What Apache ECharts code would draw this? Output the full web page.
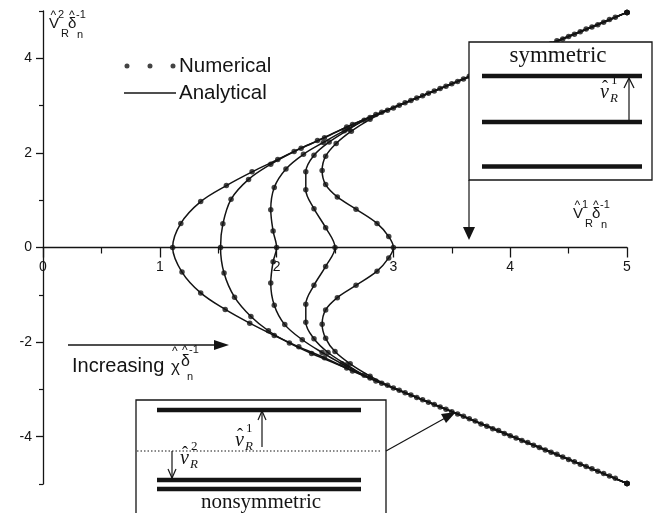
<!DOCTYPE html>
<html>
<head>
<meta charset="utf-8">
<script src="https://cdn.jsdelivr.net/npm/echarts@6/dist/echarts.min.js"></script>
<style>
  html, body { margin: 0; padding: 0; background: #fff; }
  #chart { width: 658px; height: 513px; }
</style>
</head>
<body>
<div id="chart"></div>
<script>
// Response curves in the (v_R^1/delta_n, v_R^2/delta_n) plane, one per chi/delta_n.
// Each list runs from the lower branch, through the crossing with the horizontal axis, to the upper branch.
const loop110 = [
  [5.00,-4.99],[4.90,-4.88],[4.65,-4.63],[4.40,-4.37],[4.15,-4.12],[3.90,-3.87],[3.65,-3.62],[3.40,-3.37],
  [3.15,-3.12],[2.90,-2.87],[2.65,-2.61],[2.41,-2.33],[2.19,-2.10],[1.98,-1.86],[1.77,-1.60],[1.56,-1.31],
  [1.35,-0.96],[1.19,-0.52],[1.11,0.00],[1.18,0.51],[1.35,0.97],[1.57,1.31],[1.79,1.60],[2.01,1.86],
  [2.21,2.10],[2.41,2.32],[2.65,2.60],[2.90,2.86],[3.15,3.11],[3.40,3.36],[3.65,3.62],[3.90,3.87],
  [4.15,4.12],[4.40,4.37],[4.65,4.62],[4.90,4.87],[5.00,4.97]
];
const loop150 = [
  [5.00,-4.99],[4.85,-4.83],[4.60,-4.58],[4.35,-4.33],[4.10,-4.08],[3.85,-3.83],[3.60,-3.57],[3.35,-3.32],
  [3.10,-3.07],[2.85,-2.82],[2.60,-2.55],[2.30,-2.24],[2.11,-2.02],[1.93,-1.76],[1.78,-1.46],[1.64,-1.05],
  [1.55,-0.54],[1.52,0.00],[1.54,0.50],[1.61,1.02],[1.76,1.44],[1.95,1.76],[2.15,2.03],[2.35,2.26],
  [2.60,2.55],[2.85,2.81],[3.10,3.06],[3.35,3.31],[3.60,3.56],[3.85,3.81],[4.10,4.06],[4.35,4.31],
  [4.60,4.56],[4.85,4.82],[5.00,4.97]
];
const loop200 = [
  [5.00,-4.99],[4.80,-4.78],[4.55,-4.53],[4.30,-4.28],[4.05,-4.03],[3.80,-3.78],[3.55,-3.52],[3.30,-3.27],
  [3.05,-3.02],[2.80,-2.76],[2.56,-2.46],[2.39,-2.22],[2.22,-1.95],[2.07,-1.63],[1.98,-1.22],[1.95,-0.75],
  [1.97,-0.30],[2.00,0.00],[1.97,0.35],[1.95,0.80],[1.98,1.27],[2.08,1.66],[2.23,1.97],[2.40,2.22],
  [2.58,2.47],[2.80,2.75],[3.05,3.01],[3.30,3.26],[3.55,3.51],[3.80,3.76],[4.05,4.01],[4.30,4.26],
  [4.55,4.51],[4.80,4.76],[5.00,4.97]
];
const loop250 = [
  [5.00,-4.99],[4.75,-4.73],[4.50,-4.48],[4.25,-4.23],[4.00,-3.98],[3.75,-3.73],[3.50,-3.47],[3.25,-3.22],
  [3.00,-2.97],[2.75,-2.70],[2.60,-2.48],[2.44,-2.22],[2.32,-1.93],[2.25,-1.58],[2.25,-1.20],[2.32,-0.80],
  [2.42,-0.40],[2.50,0.00],[2.42,0.42],[2.32,0.82],[2.25,1.22],[2.25,1.60],[2.32,1.95],[2.45,2.23],
  [2.62,2.50],[2.75,2.69],[3.00,2.95],[3.25,3.21],[3.50,3.46],[3.75,3.71],[4.00,3.96],[4.25,4.21],
  [4.50,4.46],[4.75,4.71],[5.00,4.97]
];
const loop300 = [
  [5.00,-4.99],[4.70,-4.68],[4.45,-4.43],[4.20,-4.18],[3.95,-3.93],[3.70,-3.67],[3.45,-3.42],[3.20,-3.17],
  [2.95,-2.91],[2.80,-2.72],[2.63,-2.46],[2.50,-2.20],[2.42,-1.92],[2.39,-1.62],[2.42,-1.32],[2.52,-1.06],
  [2.68,-0.80],[2.86,-0.50],[2.96,-0.22],[3.00,0.00],[2.96,0.23],[2.86,0.51],[2.68,0.81],[2.52,1.07],
  [2.42,1.33],[2.39,1.63],[2.42,1.93],[2.51,2.20],[2.64,2.46],[2.80,2.71],[2.95,2.90],[3.20,3.16],
  [3.45,3.41],[3.70,3.66],[3.95,3.91],[4.20,4.16],[4.45,4.41],[4.70,4.66],[5.00,4.97]
];
const curves = [loop110, loop150, loop200, loop250, loop300];

// Axis ticks
const xTicks = [0, 1, 2, 3, 4, 5];
const yMajorTicks = [-4, -2, 0, 2, 4];
const yMinorTicks = [-5, -3, -1, 1, 3, 5];

const INK = '#141414';
const SANS = 'Liberation Sans, Arial, sans-serif';
const SERIF = 'Liberation Serif, Times New Roman, serif';

// Plot box in pixels; the horizontal axis sits on v_R^2 = 0
const GRID = { left: 43, right: 31, top: 11, bottom: 29 };
const PLOT_H = 513 - GRID.top - GRID.bottom;
const Y_MIN = -5, Y_MAX = 5;
const ZERO_OFFSET = -(PLOT_H * (0 - Y_MIN) / (Y_MAX - Y_MIN));

const series = [];
curves.forEach(function (pts) {
  series.push({
    name: 'Analytical', type: 'line', data: pts, smooth: 0.35, symbol: 'none',
    lineStyle: { color: INK, width: 1.5 }, itemStyle: { color: INK }, z: 3, silent: true
  });
  series.push({
    name: 'Numerical', type: 'scatter', data: pts, symbol: 'circle', symbolSize: 5.5,
    itemStyle: { color: INK }, z: 4, silent: true
  });
});

// Small maths labels built from separate glyphs (base, hat, super/subscripts)
function glyph(t, x, y, size, font, italic) {
  return {
    type: 'text', z: 120, x: x, y: y,
    style: { text: t, fill: INK, font: (italic ? 'italic ' : '') + size + 'px ' + font, textVerticalAlign: 'top' }
  };
}
function axisSymbol(x, y, sup) {
  // V-hat with R subscript and a superscript, then delta-hat with n subscript and -1 superscript
  return [
    glyph('V', x, y + 5, 15, SANS),
    glyph('^', x + 1.5, y - 1, 12, SANS),
    glyph(sup, x + 9, y - 2, 11, SANS),
    glyph('R', x + 12, y + 17, 11, SANS),
    glyph('δ', x + 19, y + 5, 15, SANS),
    glyph('^', x + 20, y - 1, 12, SANS),
    glyph('-1', x + 27, y - 2, 11, SANS),
    glyph('n', x + 28, y + 18, 11, SANS)
  ];
}
function vHat(x, y, sup) {
  return [
    glyph('v', x, y, 20, SERIF, true),
    glyph('ˆ', x + 2, y - 4, 18, SERIF),
    glyph(sup, x + 11, y - 9, 13, SERIF),
    glyph('R', x + 10, y + 9, 13, SERIF, true)
  ];
}
function thick(x1, x2, y) {
  return { type: 'line', z: 115, shape: { x1: x1, y1: y, x2: x2, y2: y }, style: { stroke: INK, lineWidth: 4.5 } };
}
function thin(x1, y1, x2, y2, extra) {
  return { type: 'line', z: 115, shape: { x1: x1, y1: y1, x2: x2, y2: y2 }, style: Object.assign({ stroke: INK, lineWidth: 1.2 }, extra || {}) };
}
function head(points) {
  return { type: 'polygon', z: 116, shape: { points: points }, style: { fill: INK } };
}

const graphics = [].concat(
  axisSymbol(49, 11, '2'),
  axisSymbol(573, 201, '1'),
  [
    // "Increasing chi/delta" arrow
    thin(68, 345, 218, 345, { lineWidth: 1.6 }),
    head([[214, 340], [229, 345], [214, 350]]),
    glyph('Increasing', 72, 356, 20, SANS),
    glyph('χ', 171, 359, 17, SANS),
    glyph('^', 172, 346, 12, SANS),
    glyph('δ', 181, 354, 16, SANS),
    glyph('^', 182, 345, 12, SANS),
    glyph('-1', 189, 344, 11, SANS),
    glyph('n', 187, 371, 11, SANS),

    // symmetric inset
    { type: 'rect', z: 110, shape: { x: 469, y: 42, width: 183, height: 138 }, style: { fill: '#fff', stroke: INK, lineWidth: 1.3 } },
    { type: 'text', z: 120, x: 558, y: 56, style: { text: 'symmetric', fill: INK, font: '23px ' + SERIF, align: 'center', verticalAlign: 'middle' } },
    thick(482, 642, 76), thick(482, 642, 122), thick(482, 642, 166.5),
    thin(629, 122, 629, 79), thin(624, 88, 629, 78), thin(634, 88, 629, 78)
  ],
  vHat(600, 83, '1'),
  [
    thin(469, 180, 469, 230),
    head([[463, 227], [475, 227], [469, 240]]),

    // nonsymmetric inset
    { type: 'rect', z: 110, shape: { x: 136, y: 400, width: 250, height: 130 }, style: { fill: '#fff', stroke: INK, lineWidth: 1.3 } },
    thick(157, 361, 410), thick(157, 361, 480), thick(157, 361, 489),
    thin(137, 451, 381, 451, { lineWidth: 1, lineDash: [1.5, 2] }),
    thin(262, 447, 262, 412), thin(258, 420, 262, 411), thin(266, 420, 262, 411),
    thin(172, 451, 172, 478), thin(168, 469, 172, 478), thin(176, 469, 172, 478),
    { type: 'text', z: 120, x: 261, y: 502, style: { text: 'nonsymmetric', fill: INK, font: '21px ' + SERIF, align: 'center', verticalAlign: 'middle' } },
    thin(386, 451, 447, 417),
    head([[441, 414], [446, 423], [456, 412]])
  ],
  vHat(235, 431, '1'),
  vHat(180, 449, '2')
);

const chart = echarts.init(document.getElementById('chart'), null, { renderer: 'canvas' });
chart.setOption({
  backgroundColor: '#fff',
  animation: false,
  textStyle: { fontFamily: SANS },
  grid: { left: GRID.left, right: GRID.right, top: GRID.top, bottom: GRID.bottom, containLabel: false },
  legend: {
    orient: 'vertical', left: 119, top: 50, itemGap: 5, itemWidth: 52, itemHeight: 8,
    selectedMode: false,
    textStyle: { fontSize: 20.5, lineHeight: 22, color: INK, fontFamily: SANS, padding: [0, 0, 0, -2] },
    data: [
      { name: 'Numerical', icon: 'path://M0,0M52,8M0.5,4a2.5,2.5 0 1,0 5,0a2.5,2.5 0 1,0 -5,0M23.5,4a2.5,2.5 0 1,0 5,0a2.5,2.5 0 1,0 -5,0M46.5,4a2.5,2.5 0 1,0 5,0a2.5,2.5 0 1,0 -5,0', itemStyle: { color: INK } },
      { name: 'Analytical', icon: 'path://M0,0M52,8M0,3.3L52,3.3L52,4.7L0,4.7Z', itemStyle: { color: INK } }
    ]
  },
  xAxis: {
    type: 'value', min: 0, max: 5, interval: 1, position: 'bottom', offset: ZERO_OFFSET,
    axisLine: { onZero: false, lineStyle: { color: INK, width: 1.3 } },
    axisTick: { show: true, inside: false, length: 10, lineStyle: { color: INK, width: 1.3 }, customValues: xTicks },
    minorTick: { show: true, splitNumber: 2, length: 6, lineStyle: { color: INK, width: 1.2 } },
    axisLabel: { margin: 13, fontSize: 14, color: INK, fontFamily: SANS, customValues: xTicks, formatter: function (v) { return String(v); } },
    splitLine: { show: false }, minorSplitLine: { show: false }
  },
  yAxis: [
    {
      type: 'value', min: Y_MIN, max: Y_MAX, interval: 1,
      axisLine: { show: true, onZero: false, lineStyle: { color: INK, width: 1.3 } },
      axisTick: { show: true, inside: false, length: 7, lineStyle: { color: INK, width: 1.3 }, customValues: yMajorTicks },
      axisLabel: { margin: 11, fontSize: 14, color: INK, fontFamily: SANS, customValues: yMajorTicks, formatter: function (v) { return String(v); } },
      splitLine: { show: false }
    },
    {
      type: 'value', min: Y_MIN, max: Y_MAX, interval: 1, position: 'left',
      axisLine: { show: false, onZero: false },
      axisTick: { show: true, inside: false, length: 4, lineStyle: { color: INK, width: 1.2 }, customValues: yMinorTicks },
      axisLabel: { show: false },
      splitLine: { show: false }
    }
  ],
  series: series,
  graphic: { elements: graphics }
});
</script>
</body>
</html>
